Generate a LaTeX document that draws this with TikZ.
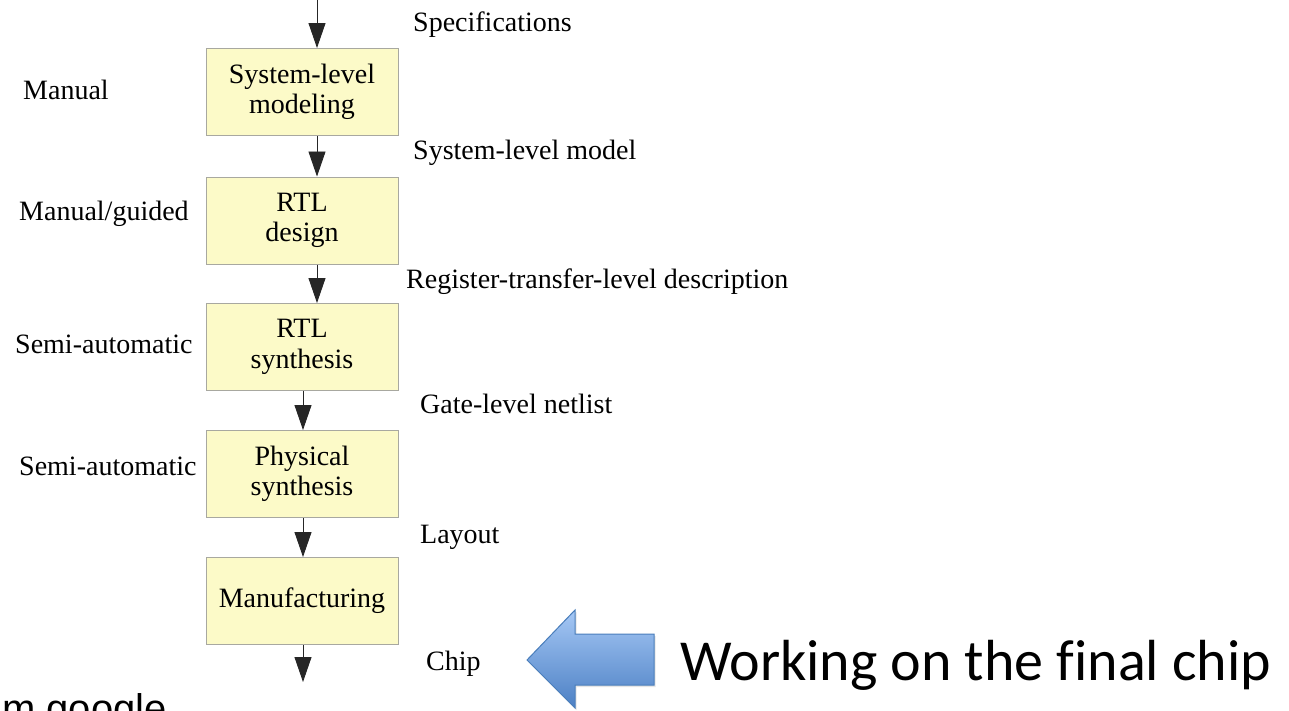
\documentclass[tikz,border=0pt]{standalone}
\usepackage{fontspec}
\setmainfont{Liberation Serif}
\newfontfamily\calloutfont[Ligatures=NoCommon]{Carlito}
\newfontfamily\notefont{Liberation Sans}
\usetikzlibrary{arrows.meta,shadows}
\definecolor{boxfill}{HTML}{FCFAC8}
\definecolor{boxline}{HTML}{A8A8A0}
\definecolor{blueTop}{HTML}{A6C8F5}
\definecolor{blueBot}{HTML}{4C80C4}
\definecolor{blueEdge}{HTML}{4A7EBB}

\begin{document}
\begin{tikzpicture}[x=1pt,y=-1pt,
  stage/.style={draw=boxline, fill=boxfill, line width=1pt,
    minimum width=192pt, minimum height=87pt, inner sep=0pt,
    align=center, font=\fontsize{28}{30.5}\selectfont},
  flow/.style={draw=black!85, line width=0.9pt,
    -{Triangle[length=25pt,width=17pt]}},
  lbl/.style={anchor=base west, inner sep=0pt,
    font=\fontsize{28}{30}\selectfont},
]
\fill[white] (0,0) rectangle (1289,710);
\clip (0,0) rectangle (1289,710);

% design stages
\node[stage] (b1) at (302,92)    {System-level\\modeling};
\node[stage] (b2) at (302,220.5) {RTL\\design};
\node[stage] (b3) at (302,347)   {RTL\\synthesis};
\node[stage] (b4) at (302,474)   {Physical\\synthesis};
\node[stage] (b5) at (302,601)   {Manufacturing};

% flow between stages
\coordinate (in)  at (317,0);
\coordinate (out) at (303,682);
\draw[flow] (in) -- (in |- b1.north);
\draw[flow] ([xshift=15pt]b1.south) -- ([xshift=15pt]b2.north);
\draw[flow] ([xshift=15pt]b2.south) -- ([xshift=15pt]b3.north);
\draw[flow] ([xshift=1pt]b3.south) -- ([xshift=1pt]b4.north);
\draw[flow] ([xshift=1pt]b4.south) -- ([xshift=1pt]b5.north);
\draw[flow] (b5.south -| out) -- (out);

% degree of automation
\node[lbl] (m1) at (23,99)   {Manual};
\node[lbl] (m2) at (19,220)  {Manual/guided};
\node[lbl] (m3) at (15,353)  {Semi-automatic};
\node[lbl] (m4) at (19,475)  {Semi-automatic};

% intermediate results
\node[lbl] (r0) at (413,31)  {Specifications};
\node[lbl] (r1) at (413,159) {System-level model};
\node[lbl] (r2) at (406,288) {Register-transfer-level description};
\node[lbl] (r3) at (420,413) {Gate-level netlist};
\node[lbl] (r4) at (420,543) {Layout};
\node[lbl] (r5) at (426,670) {Chip};

% callout arrow
\shade[top color=blueTop, bottom color=blueBot, draw=blueEdge, line width=1pt,
  drop shadow={opacity=0.2, shadow xshift=1.5pt, shadow yshift=-2pt}]
  (527,660) -- (575,610) -- (575,634) -- (654,634) -- (654,685)
  -- (575,685) -- (575,708) -- cycle;
\node[anchor=base west, inner sep=0pt, font=\calloutfont\fontsize{58}{60}\selectfont]
  (note) at (680,680) {Working on the final chip};

\node[anchor=base west, inner sep=0pt, font=\notefont\fontsize{40}{44}\selectfont]
  (src) at (2,722) {m google};
\end{tikzpicture}
\end{document}
